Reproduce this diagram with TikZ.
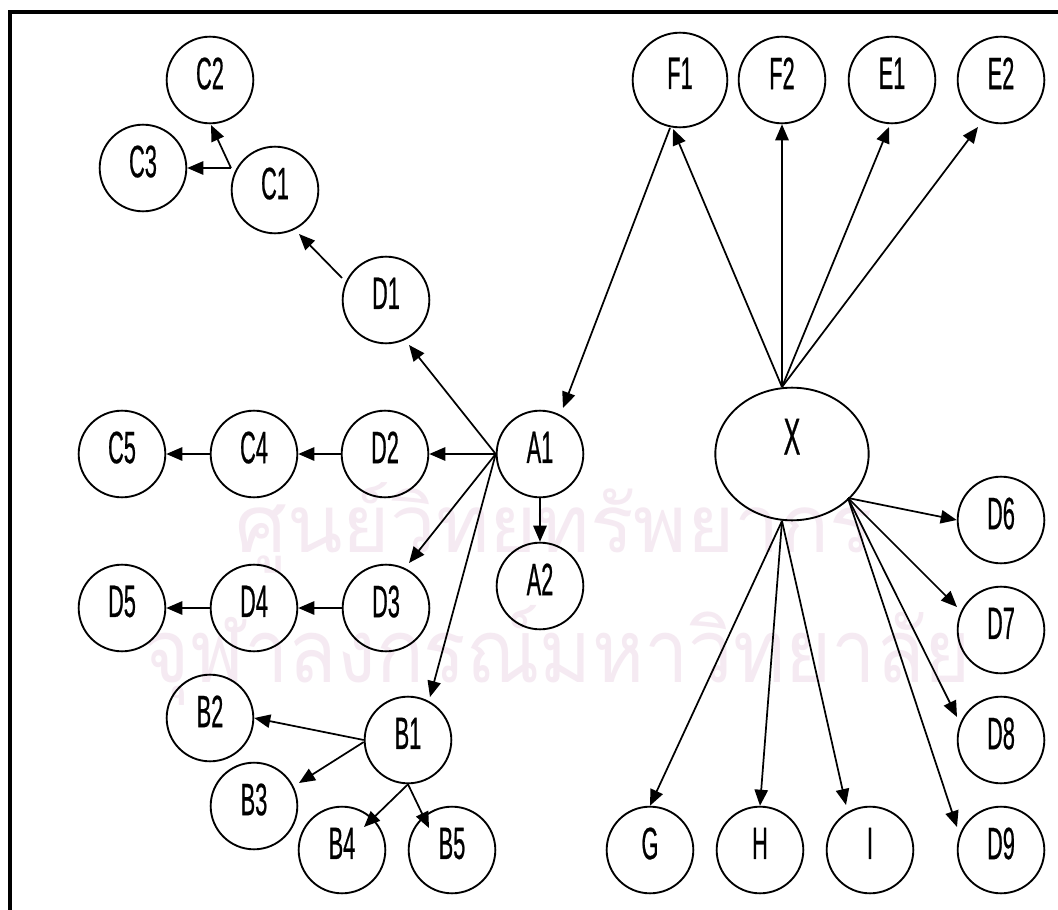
\documentclass[tikz,border=0pt]{standalone}
\usepackage{fontspec}
\setmainfont{Liberation Sans}[FakeStretch=0.48,FakeBold=0.5]
\newfontfamily\thaifont[Script=Thai]{Loma}
\usetikzlibrary{arrows.meta,calc,shapes.geometric}
\definecolor{wmpink}{RGB}{245,234,242}
\begin{document}
\begin{tikzpicture}[x=0.75pt,y=-0.75pt,
  nd/.style={draw,circle,line width=1.4pt,minimum size=65pt,inner sep=0pt,
             font=\fontsize{34}{35}\selectfont,text depth=10pt},
  arr/.style={line width=1.3pt,-{Triangle[length=12pt,width=10pt]}},
  wmtext/.style={text=wmpink,inner sep=0pt}]
\useasboundingbox (0,0) rectangle (1058,910);
\fill[white] (0,0) rectangle (1058,910);
% watermark
\node[wmtext] (wm1) at (554.5,527.5) {\resizebox*{477.75pt}{68pt}{\thaifont ศูนย์วิทยทรัพยากร}};
\node[wmtext] (wm2) at (557.5,655) {\resizebox*{620pt}{75pt}{\thaifont จุฬาลงกรณ์มหาวิทยาลัย}};
% frame
\draw[line width=3pt] (10,910) -- (10,12) -- (1058,12);
% nodes
\node[nd] (C2) at (210,80) {C2};
\node[nd] (C3) at (143,168) {C3};
\node[nd] (C1) at (275,190) {C1};
\node[nd] (D1) at (386,300) {D1};
\node[nd] (C5) at (122,454) {C5};
\node[nd] (C4) at (254,454) {C4};
\node[nd] (D2) at (385,454) {D2};
\node[nd] (A1) at (540,454) {A1};
\node[nd] (A2) at (540,586) {A2};
\node[nd] (D5) at (122,608) {D5};
\node[nd] (D4) at (254,608) {D4};
\node[nd] (D3) at (386,608) {D3};
\node[nd] (B2) at (210,718) {B2};
\node[nd] (B1) at (408,740) {B1};
\node[nd] (B3) at (254,806) {B3};
\node[nd] (B4) at (342,850) {B4};
\node[nd] (B5) at (452,850) {B5};
\node[nd,minimum size=71pt] (F1) at (680,80) {F1};
\node[nd] (F2) at (782,80) {F2};
\node[nd] (E1) at (892,80) {E1};
\node[nd] (E2) at (1001,80) {E2};
\node[draw,ellipse,line width=1.4pt,minimum width=115pt,minimum height=99.5pt,
      inner sep=0pt,font=\fontsize{39}{40}\selectfont,text depth=26pt] (X) at (792,454) {X};
\node[nd] (D6) at (1001,520) {D6};
\node[nd] (D7) at (1001,630) {D7};
\node[nd] (D8) at (1001,740) {D8};
\node[nd] (D9) at (1001,850) {D9};
\node[nd] (G) at (650,850) {G};
\node[nd] (H) at (760,850) {H};
\node[nd] (I) at (870,850) {I};
% junction points
\coordinate (c1j) at ($(C1)+(-44,-22)$);
\coordinate (xt) at ($(X)+(-10,-67)$);
\coordinate (xb) at ($(X)+(-10,67)$);
\coordinate (xr) at ($(X)+(56,44)$);
% connectors
\draw[arr] ($(D1)+(-44,-22)$) -- ($(C1)+(24,44)$);
\draw[arr] (c1j) -- ($(C2)+(1,45)$);
\draw[arr] (c1j) -- (C3.east);
\draw[arr] (A1.west) -- ($(D1)+(23,45)$);
\draw[arr] (A1.west) -- (D2.east);
\draw[arr] (D2.west) -- (C4.east);
\draw[arr] (C4.west) -- (C5.east);
\draw[arr] (A1.west) -- ($(D3)+(23,-45)$);
\draw[arr] (A1.west) -- ($(B1)+(22,-43)$);
\draw[arr] (A1.south) -- (A2.north);
\draw[arr] (D3.west) -- (D4.east);
\draw[arr] (D4.west) -- (D5.east);
\draw[arr] (B1.west) -- (B2.east);
\draw[arr] ($(B1.west)+(0,2)$) -- ($(B3)+(45,-23)$);
\draw[arr] (B1.south) -- ($(B4)+(22,-23)$);
\draw[arr] (B1.south) -- ($(B5)+(-23,-22)$);
\draw[arr] ($(F1)+(-10,48)$) -- ($(A1)+(23,-46)$);
\draw[arr] (xt) -- ($(F1)+(-7,49)$);
\draw[arr] (xt) -- (F2.south);
\draw[arr] (xt) -- ($(E1)+(-3,47)$);
\draw[arr] (xt) -- ($(E2)+(-23,47)$);
\draw[arr] (xb) -- (G.north);
\draw[arr] (xb) -- (H.north);
\draw[arr] (xb) -- ($(I)+(-24,-45)$);
\draw[arr] (xr) -- (D6.west);
\draw[arr] (xr) -- ($(D7)+(-44,-23)$);
\draw[arr] (xr) -- ($(D8)+(-44,-23)$);
\draw[arr] (xr) -- ($(D9)+(-44,-23)$);
\end{tikzpicture}
\end{document}
